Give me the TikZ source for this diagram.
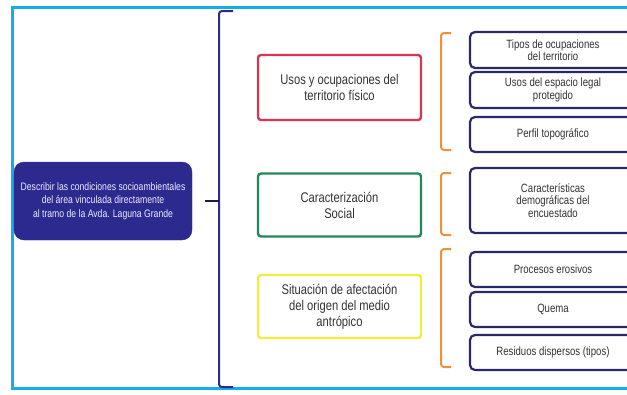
\documentclass[tikz,border=0pt]{standalone}
\usepackage{fontspec}
\setmainfont{Liberation Sans}[FakeStretch=0.8]
\definecolor{frameblue}{HTML}{10AEEA}
\definecolor{navy}{HTML}{2E2B86}
\definecolor{nodeblue}{HTML}{2D2A8F}
\definecolor{boxnavy}{HTML}{2B2868}
\definecolor{redb}{HTML}{D53650}
\definecolor{greenb}{HTML}{21885A}
\definecolor{yellowb}{HTML}{F0EC40}
\definecolor{orangeb}{HTML}{F0913A}
\definecolor{txt}{HTML}{333333}
\begin{document}
\begin{tikzpicture}[x=1pt,y=-1pt,
  mainbox/.style={draw=nodeblue,fill=nodeblue,rounded corners=10pt,text=white!92!blue,
    minimum width=178pt,minimum height=78pt,align=center,inner sep=0pt,
    font=\fontsize{10.8}{13.5}\selectfont},
  midbox/.style={draw=#1,line width=2.4pt,rounded corners=3pt,fill=white,
    minimum width=163pt,minimum height=63pt,align=center,text=txt,
    font=\fontsize{14}{16}\selectfont},
  rbox/.style={draw=boxnavy,line width=2.2pt,rounded corners=5pt,fill=white,
    minimum width=166pt,align=center,text=txt,inner sep=1pt,
    font=\fontsize{12}{12.5}\selectfont},
  navybrk/.style={draw=navy,line width=2pt,rounded corners=3pt},
  orbrk/.style={draw=orangeb,line width=2pt,rounded corners=3pt}]
\useasboundingbox (0,0) rectangle (627,394);
\clip (0,0) rectangle (627,394);
\fill[white] (0,0) rectangle (627,394);
% frame
\draw[frameblue,line width=3pt] (627,7.5) -- (12.5,7.5) -- (12.5,388.5) -- (627,388.5);
% main node
\node[mainbox] (main) at (103,201) {Describir las condiciones socioambientales\\del área vinculada directamente\\al tramo de la Avda. Laguna Grande};
% big bracket
\draw[navybrk] (233,11) -- (219,11) -- (219,387) -- (233,387);
\coordinate (brk) at (219,201);
\coordinate (t1) at (205,201);
\draw[navy!60!black,line width=1.6pt] (t1) -- (brk);
% middle boxes
\node[midbox=redb,minimum height=65pt] (uso) at (339.5,87.5) {Usos y ocupaciones del\\territorio físico};
\node[midbox=greenb] (car) at (339.5,205) {Caracterización\\Social};
\node[midbox=yellowb] (sit) at (339.5,306.5) {Situación de afectación\\del origen del medio\\antrópico};
% orange brackets
\draw[orbrk] (451,33) -- (441,33) -- (441,150) -- (451,150);
\draw[orbrk] (451,173) -- (441,173) -- (441,235) -- (451,235);
\draw[orbrk] (451,249) -- (441,249) -- (441,367) -- (451,367);
% right boxes
\node[rbox,minimum height=36pt] (r1) at (553,50) {Tipos de ocupaciones\\del territorio};
\node[rbox,minimum height=36pt] (r2) at (553,90) {Usos del espacio legal\\protegido};
\node[rbox,minimum height=35pt] (r3) at (553,134.5) {Perfil topográfico};
\node[rbox,minimum height=65pt] (r4) at (553,200.5) {Características\\demográficas del\\encuestado};
\node[rbox,minimum height=35pt] (r5) at (553,269.5) {Procesos erosivos};
\node[rbox,minimum height=35pt] (r6) at (553,309.5) {Quema};
\node[rbox,minimum height=35pt] (r7) at (553,352.5) {Residuos dispersos (tipos)};
\end{tikzpicture}
\end{document}
